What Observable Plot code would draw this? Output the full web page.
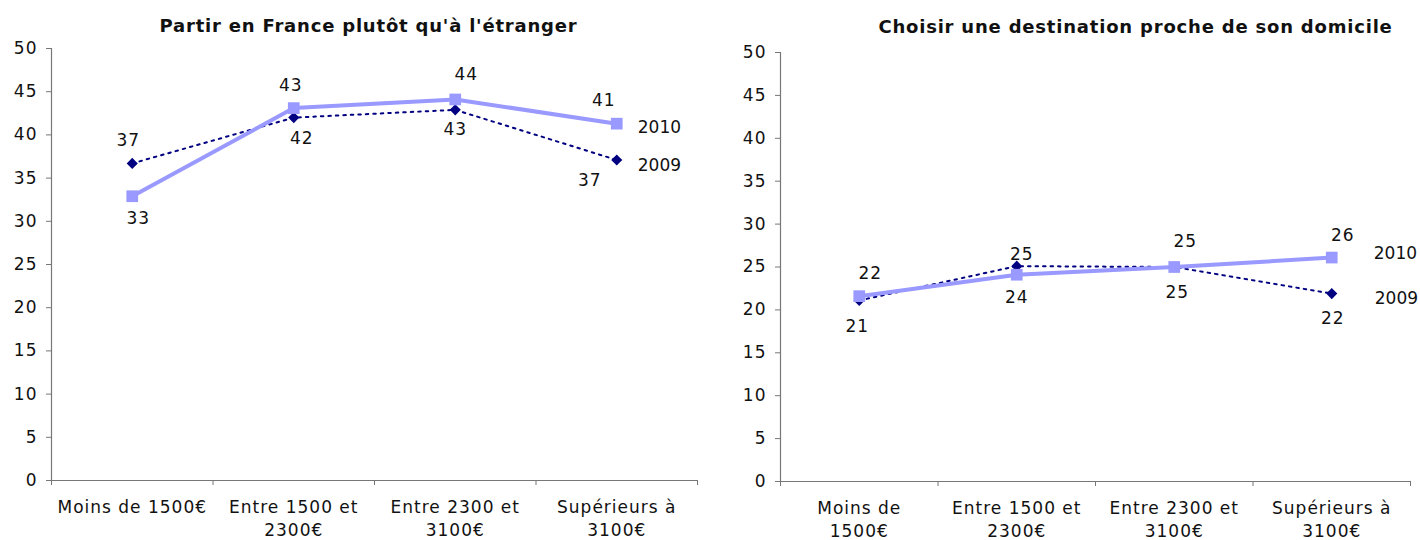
<!DOCTYPE html>
<html>
<head>
<meta charset="utf-8">
<script src="https://cdn.jsdelivr.net/npm/d3@7"></script>
<script src="https://cdn.jsdelivr.net/npm/@observablehq/plot@0.6"></script>
<style>
  html, body { margin: 0; padding: 0; background: #fff; }
  #wrap { display: flex; width: 1420px; height: 540px; }
  #wrap svg { letter-spacing: 1px; }
  #wrap svg g[font-weight="bold"] { letter-spacing: 0.8px; }
  #wrap svg g[font-style="normal"] { letter-spacing: 0; }
</style>
</head>
<body>
<div id="wrap"></div>
<script>
// ---- data ----
const titles = ["Partir en France plutôt qu'à l'étranger", "Choisir une destination proche de son domicile"];
const categoriesLeft = ["Moins de 1500€", "Entre 1500 et\n2300€", "Entre 2300 et\n3100€", "Supérieurs à\n3100€"];
const categoriesRight = ["Moins de\n1500€", "Entre 1500 et\n2300€", "Entre 2300 et\n3100€", "Supérieurs à\n3100€"];
const seriesNames = ["2010", "2009"];
const left2010 = [32.9, 43.1, 44.1, 41.3];
const left2009 = [36.7, 42.0, 42.9, 37.1];
const right2010 = [21.6, 24.1, 25.0, 26.1];
const right2009 = [21.1, 25.1, 25.0, 21.9];
const yTicks = [0, 5, 10, 15, 20, 25, 30, 35, 40, 45, 50];

// ---- style ----
const C2010 = "#9999FF", C2009 = "#000080", AXIS = "#777777", TEXT = "#111";
const FONT = "DejaVu Sans";
// value-label offsets [dx, dy] in pixels, per point (as placed in the original)
const nudgeLeft = {
  "2010": [[6, 22], [-3, -23], [11, -25], [-13, -23]],
  "2009": [[-4, -23], [8, 21], [0, 20], [-27, 21]]
};
const nudgeRight = {
  "2010": [[11, -23], [0, 23], [11, -25], [11, -22]],
  "2009": [[-2, 26], [5, -12], [3, 26], [1, 25]]
};

function build(opt) {
  const {title, cats, s2010, s2009, nudge, mL, mR, mT, mB, titleDx, titleDy, names} = opt;
  const rows = [];
  cats.forEach((c, i) => {
    rows.push({series: "2010", i, v: s2010[i], dx: nudge["2010"][i][0], dy: nudge["2010"][i][1]});
    rows.push({series: "2009", i, v: s2009[i], dx: nudge["2009"][i][0], dy: nudge["2009"][i][1]});
  });
  const r10 = rows.filter(d => d.series === "2010");
  const r09 = rows.filter(d => d.series === "2009");
  const last = [r10[r10.length - 1], r09[r09.length - 1]];
  const labelMarks = rows.map(d => Plot.text([d], {x: d => d.i + 0.5, y: "v",
    text: d => String(Math.round(d.v)), dx: d.dx, dy: d.dy, fill: TEXT}));
  return Plot.plot({
    width: 710, height: 540,
    marginLeft: mL, marginRight: mR, marginTop: mT, marginBottom: mB,
    style: {fontFamily: FONT, fontSize: "17px", color: TEXT, background: "#fff", overflow: "visible"},
    x: {domain: [0, cats.length], axis: null},
    y: {domain: [0, 50], axis: null},
    marks: [
      Plot.axisY({ticks: yTicks, tickSize: 5, tickPadding: 9, stroke: AXIS, fill: TEXT, label: null}),
      Plot.ruleX([0], {stroke: AXIS, strokeWidth: 1.2}),
      Plot.ruleY([0], {stroke: AXIS, strokeWidth: 1.2}),
      Plot.axisX({ticks: d3.range(cats.length + 1), tickSize: 5, tickFormat: () => "", stroke: AXIS, label: null}),
      Plot.axisX({ticks: cats.map((c, i) => i + 0.5), tickSize: 0, tickPadding: 16, label: null,
        tickFormat: t => cats[Math.round(t - 0.5)], lineHeight: 1.37, fill: TEXT}),
      Plot.line(r09, {x: d => d.i + 0.5, y: "v", stroke: C2009, strokeWidth: 2, strokeDasharray: "2.5,5"}),
      Plot.line(r10, {x: d => d.i + 0.5, y: "v", stroke: C2010, strokeWidth: 4}),
      Plot.dot(r09, {x: d => d.i + 0.5, y: "v", symbol: "diamond2", r: 5, fill: C2009, stroke: "none"}),
      Plot.dot(r10, {x: d => d.i + 0.5, y: "v", symbol: "square", r: 6.6, fill: C2010, stroke: "none"}),
      ...labelMarks,
      Plot.text([last[0]], {x: d => d.i + 0.5, y: "v", text: () => seriesNames[0], textAnchor: "start", fontStyle: "normal", dx: names[0][0], dy: names[0][1], fill: TEXT}),
      Plot.text([last[1]], {x: d => d.i + 0.5, y: "v", text: () => seriesNames[1], textAnchor: "start", fontStyle: "normal", dx: names[1][0], dy: names[1][1], fill: TEXT}),
      Plot.text([title], {frameAnchor: "top", lineAnchor: "middle", text: d => d, dx: titleDx, dy: titleDy, fontWeight: "bold", fontSize: 18, fill: TEXT})
    ]
  });
}

const wrap = document.getElementById("wrap");
wrap.appendChild(build({title: titles[0], cats: categoriesLeft, s2010: left2010, s2009: left2009, nudge: nudgeLeft,
  mL: 51, mR: 13, mT: 48, mB: 60, titleDx: -6, titleDy: -22, names: [[21, 4], [21, 6]]}));
wrap.appendChild(build({title: titles[1], cats: categoriesRight, s2010: right2010, s2009: right2009, nudge: nudgeRight,
  mL: 70, mR: 10, mT: 52, mB: 59, titleDx: 40, titleDy: -25, names: [[42, -4], [43, 5]]}));
</script>
</body>
</html>
